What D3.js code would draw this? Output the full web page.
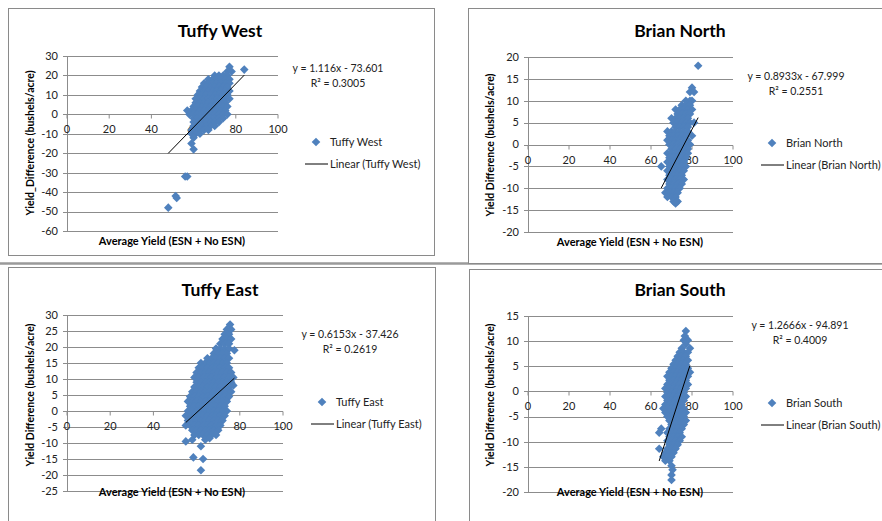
<!DOCTYPE html>
<html>
<head>
<meta charset="utf-8">
<script src="https://cdn.jsdelivr.net/npm/d3@7"></script>
<style>
  body { margin: 0; background: #fff; }
  svg { display: block; font-family: Lato, "Open Sans", sans-serif; }
</style>
</head>
<body>
<svg id="mysvg" width="882" height="521"></svg>
<script>
// values: [average yield, yield difference]
const tuffyWest = [
  [77,24.5],[84,23],[76,22],[78,22],
  [70,20],[72,20],[74,20],[76,20],
  [67,18],[69,18],[71,18],[73,18],[75,18],[77,18],
  [65,16],[67,16],[69,16],[71,16],[73,16],[75,16],[77,16],
  [64,14],[66,14],[68,14],[70,14],[72,14],[74,14],[76,14],
  [63,12],[65,12],[67,12],[69,12],[71,12],[73,12],[75,12],[77,12],
  [62,10],[64,10],[66,10],[68,10],[70,10],[72,10],[74,10],[76,10],
  [61,8],[63,8],[65,8],[67,8],[69,8],[71,8],[73,8],[75,8],[77,8],
  [61,6],[63,6],[65,6],[67,6],[69,6],[71,6],[73,6],[75,6],
  [60,4],[62,4],[64,4],[66,4],[68,4],[70,4],[72,4],[74,4],[76,4],
  [57,2],[59,2],[61,2],[63,2],[65,2],[67,2],[69,2],[71,2],[73,2],[75,2],
  [58,0],[60,0],[62,0],[64,0],[66,0],[68,0],[70,0],[72,0],[74,0],[76,0],
  [60,-2],[62,-2],[64,-2],[66,-2],[68,-2],[70,-2],[72,-2],[74,-2],
  [60,-4],[62,-4],[64,-4],[66,-4],[68,-4],[70,-4],[72,-4],
  [60,-6],[62,-6],[64,-6],[66,-6],[68,-6],[70,-6],
  [59,-8],[61,-8],[63,-8],[65,-8],[67,-8],
  [59,-10],[61,-10],[63,-10],[60,-12],[59,-15],[60,-18],
  [56,-32],[57,-32],[51.5,-42],[52,-43],[48,-48]
];
const brianNorth = [
  [83,18],[80,13],[79,12],[81,12],[77,10],[79,10],[80,10],
  [75,9],[77,9],[79,9],
  [72,8],[74,8],[76,8],[78,8],[80,8],
  [73,7],[75,7],[77,7],[79,7],
  [70,6],[72,6],[74,6],[76,6],[78,6],
  [71,5],[73,5],[75,5],[77,5],[79,5],[81,5],
  [72,4],[74,4],[76,4],[78,4],
  [68,3],[70,3],[72,3],[74,3],[76,3],[78,3],
  [69,2],[71,2],[73,2],[75,2],[77,2],[80,2],
  [68,1],[70,1],[72,1],[74,1],[76,1],[78,1],
  [69,0],[71,0],[73,0],[75,0],[77,0],[79,0],
  [70,-1],[72,-1],[74,-1],[76,-1],[78,-1],
  [68,-2],[70,-2],[72,-2],[74,-2],[76,-2],[78,-2],
  [69,-3],[71,-3],[73,-3],[75,-3],[77,-3],
  [68,-4],[70,-4],[72,-4],[74,-4],[76,-4],
  [65,-5],[69,-5],[71,-5],[73,-5],[75,-5],[77,-5],
  [68,-6],[70,-6],[72,-6],[74,-6],[76,-6],
  [69,-7],[71,-7],[73,-7],[75,-7],
  [68,-8],[70,-8],[72,-8],[74,-8],[76,-8],
  [69,-9],[71,-9],[73,-9],[75,-9],
  [68,-10],[70,-10],[72,-10],[74,-10],
  [67,-11],[69,-11],[71,-11],[73,-11],
  [68,-12],[70,-12],[72,-12],[71,-13],[73,-13],[72,-13.5]
];
const tuffyEast = [
  [75.5,27],[74,25.5],[76,25.5],[73,24],[75,24],
  [72,22.5],[74,22.5],[76,22.5],[71,21],[73,21],[75,21],
  [69,19.5],[71,19.5],[73,19.5],[75,19.5],[77.5,19],
  [68,18],[70,18],[72,18],[74,18],
  [65,16.5],[67,16.5],[69,16.5],[71,16.5],[73,16.5],[75,16.5],
  [62,15],[64,15],[66,15],[68,15],[70,15],[72,15],[74,15],
  [61,13.5],[63,13.5],[65,13.5],[67,13.5],[69,13.5],[71,13.5],[73,13.5],[75,13.5],
  [60,12],[62,12],[64,12],[66,12],[68,12],[70,12],[72,12],[74,12],[76,12],
  [59,10.5],[61,10.5],[63,10.5],[65,10.5],[67,10.5],[69,10.5],[71,10.5],[73,10.5],[75,10.5],[77,10.5],
  [60,9],[62,9],[64,9],[66,9],[68,9],[70,9],[72,9],[74,9],[76,9],
  [59,7.5],[61,7.5],[63,7.5],[65,7.5],[67,7.5],[69,7.5],[71,7.5],[73,7.5],[75,7.5],[77,8],
  [58,6],[60,6],[62,6],[64,6],[66,6],[68,6],[70,6],[72,6],[74,6],[76,6],
  [57,4.5],[59,4.5],[61,4.5],[63,4.5],[65,4.5],[67,4.5],[69,4.5],[71,4.5],[73,4.5],[75,4.5],
  [56,3],[58,3],[60,3],[62,3],[64,3],[66,3],[68,3],[70,3],[72,3],[74,3],
  [57,1.5],[59,1.5],[61,1.5],[63,1.5],[65,1.5],[67,1.5],[69,1.5],[71,1.5],[73,1.5],
  [56,0],[58,0],[60,0],[62,0],[64,0],[66,0],[68,0],[70,0],[72,0],[74,0],
  [55,-1.5],[57,-1.5],[59,-1.5],[61,-1.5],[63,-1.5],[65,-1.5],[67,-1.5],[69,-1.5],[71,-1.5],[73,-1.5],
  [56,-3],[58,-3],[60,-3],[62,-3],[64,-3],[66,-3],[68,-3],[70,-3],[72,-3],
  [55,-4.5],[57,-4.5],[59,-4.5],[61,-4.5],[63,-4.5],[65,-4.5],[67,-4.5],[69,-4.5],[71,-4.5],
  [58,-6],[60,-6],[62,-6],[64,-6],[66,-6],[68,-6],[70,-6],
  [59,-7.5],[61,-7.5],[63,-7.5],[65,-7.5],[67,-7.5],[69,-7.5],
  [55,-9.5],[58,-9],[64,-9],[66,-8.5],[62,-11],
  [58.5,-14.5],[63,-15],[62,-18.5]
];
const brianSouth = [
  [77,12],[76.5,11],[76,10.2],[78,10.2],[77,9.4],[75,8.6],[79,8.6],
  [74,7.8],[76,7.8],[78,7.8],[73,7],[75,7],[77,7],
  [72,6.2],[74,6.2],[76,6.2],[78,6.2],[71,5.4],[73,5.4],[75,5.4],[77,5.4],
  [70,4.6],[72,4.6],[74,4.6],[76,4.6],[78,4.6],
  [69,3.8],[71,3.8],[73,3.8],[75,3.8],[77,3.8],[79,3.8],
  [68,3],[70,3],[72,3],[74,3],[76,3],[78,3],
  [69,2.2],[71,2.2],[73,2.2],[75,2.2],[77,2.2],
  [68,1.4],[70,1.4],[72,1.4],[74,1.4],[76,1.4],[78,1.4],
  [67,0.6],[69,0.6],[71,0.6],[73,0.6],[75,0.6],[77,0.6],
  [68,-0.2],[70,-0.2],[72,-0.2],[74,-0.2],[76,-0.2],
  [67,-1],[69,-1],[71,-1],[73,-1],[75,-1],[77,-1],
  [68,-1.8],[70,-1.8],[72,-1.8],[74,-1.8],[76,-1.8],
  [67,-2.6],[69,-2.6],[71,-2.6],[73,-2.6],[75,-2.6],
  [66,-3.4],[68,-3.4],[70,-3.4],[72,-3.4],[74,-3.4],[76,-3.4],
  [67,-4.2],[69,-4.2],[71,-4.2],[73,-4.2],[75,-4.2],[77,-4.2],
  [68,-5],[70,-5],[72,-5],[74,-5],[76,-5],
  [69,-5.8],[71,-5.8],[73,-5.8],[75,-5.8],[77,-5.8],
  [70,-6.6],[72,-6.6],[74,-6.6],[76,-6.6],
  [65,-7.4],[69,-7.4],[71,-7.4],[73,-7.4],[75,-7.4],
  [64,-8.2],[68,-8.2],[70,-8.2],[72,-8.2],[74,-8.2],
  [69,-9],[71,-9],[73,-9],[75,-9],
  [68,-9.8],[70,-9.8],[72,-9.8],[74,-9.8],
  [69,-10.6],[71,-10.6],[73,-10.6],
  [64,-11.4],[68,-11.4],[70,-11.4],[72,-11.4],
  [67,-12.2],[69,-12.2],[71,-12.2],
  [66,-13],[68,-13],[70,-13],[67,-13.8],[69,-13.8],
  [70,-14.8],[70.5,-15.6],[70,-16.6],[70,-17.6]
];

const xTicks = [0, 20, 40, 60, 80, 100];
const tuffyWestYTicks = [30, 20, 10, 0, -10, -20, -30, -40, -50, -60];
const brianNorthYTicks = [20, 15, 10, 5, 0, -5, -10, -15, -20];
const tuffyEastYTicks = [30, 25, 20, 15, 10, 5, 0, -5, -10, -15, -20, -25];
const brianSouthYTicks = [15, 10, 5, 0, -5, -10, -15, -20];

// linear trendline: [slope, intercept], drawn over the x range of the data
const tuffyWestFit = [1.116, -73.601];
const brianNorthFit = [0.8933, -67.999];
const tuffyEastFit = [0.6153, -37.426];
const brianSouthFit = [1.2666, -94.891];

const tuffyWestText = ["y = 1.116x - 73.601", "R\u00b2 = 0.3005"];
const brianNorthText = ["y = 0.8933x - 67.999", "R\u00b2 = 0.2551"];
const tuffyEastText = ["y = 0.6153x - 37.426", "R\u00b2 = 0.2619"];
const brianSouthText = ["y = 1.2666x - 94.891", "R\u00b2 = 0.4009"];

const panels = [
  { name: "Tuffy West", pts: tuffyWest, yTicks: tuffyWestYTicks, fit: tuffyWestFit, eq: tuffyWestText,
    yTitle: "Yield_Difference (bushels/acre)",
    box: [8, 8, 426, 247], plot: [67, 278, 56, 231], title: [220, 37], eqPos: [338, 72],
    yTitlePos: [30, 143], xTitlePos: [172, 245], legend: [316, 142] },
  { name: "Brian North", pts: brianNorth, yTicks: brianNorthYTicks, fit: brianNorthFit, eq: brianNorthText,
    yTitle: "Yield Difference (bushels/acre)",
    box: [468, 8, 420, 255], plot: [528, 733, 57, 232], title: [680, 37], eqPos: [796, 80],
    yTitlePos: [490, 145], xTitlePos: [630, 246], legend: [772, 143] },
  { name: "Tuffy East", pts: tuffyEast, yTicks: tuffyEastYTicks, fit: tuffyEastFit, eq: tuffyEastText,
    yTitle: "Yield Difference (bushels/acre)",
    box: [8, 267, 427, 260], plot: [67, 283, 315, 491], title: [220, 296], eqPos: [350, 338],
    yTitlePos: [30, 395], xTitlePos: [172, 496], legend: [322, 402] },
  { name: "Brian South", pts: brianSouth, yTicks: brianSouthYTicks, fit: brianSouthFit, eq: brianSouthText,
    yTitle: "Yield Difference (bushels/acre)",
    box: [469, 269, 420, 260], plot: [528, 733, 316, 492], title: [680, 296], eqPos: [800, 329],
    yTitlePos: [490, 395], xTitlePos: [630, 496], legend: [772, 403] }
];

const blue = "#4f81bd";
const gridColor = "#8c8c8c";
const diamond = "M0,-4.3L4.3,0L0,4.3L-4.3,0Z";

const svg = d3.select("#mysvg");

// divider line between the two rows
svg.append("line").attr("x1", 0).attr("x2", 882).attr("y1", 263.5).attr("y2", 263.5)
  .attr("stroke", "#9a9a9a").attr("stroke-width", 2.5);

panels.forEach((p) => {
  const g = svg.append("g");
  const [bx, by, bw, bh] = p.box;
  g.append("rect").attr("x", bx + 0.5).attr("y", by + 0.5).attr("width", bw).attr("height", bh)
    .attr("fill", "#fff").attr("stroke", "#8a8a8a").attr("stroke-width", 1);

  const [x0, x1, y0, y1] = p.plot;
  const x = d3.scaleLinear().domain([0, 100]).range([x0, x1]);
  const y = d3.scaleLinear().domain([p.yTicks[0], p.yTicks[p.yTicks.length - 1]]).range([y0, y1]);

  // gridlines (with the small outside tick on the left)
  g.selectAll(".grid").data(p.yTicks).join("line").attr("class", "grid")
    .attr("x1", x0 - 4).attr("x2", x1)
    .attr("y1", (d) => Math.round(y(d)) + 0.5).attr("y2", (d) => Math.round(y(d)) + 0.5)
    .attr("stroke", gridColor).attr("stroke-width", 1);

  // vertical axis
  g.append("line").attr("x1", x0 + 0.5).attr("x2", x0 + 0.5).attr("y1", y0).attr("y2", y1)
    .attr("stroke", gridColor);

  g.selectAll(".ylab").data(p.yTicks).join("text").attr("class", "ylab")
    .attr("x", x0 - 9).attr("y", (d) => y(d)).attr("dy", "0.35em")
    .attr("text-anchor", "end").attr("font-size", 11).attr("fill", "#222")
    .text((d) => d);

  // horizontal axis sits on the zero line
  const y0px = Math.round(y(0)) + 0.5;
  g.selectAll(".xtick").data(xTicks).join("line").attr("class", "xtick")
    .attr("x1", (d) => x(d)).attr("x2", (d) => x(d))
    .attr("y1", y0px).attr("y2", y0px + 4)
    .attr("stroke", gridColor);
  g.selectAll(".xlab").data(xTicks).join("text").attr("class", "xlab")
    .attr("x", (d) => x(d)).attr("y", y0px + 15).attr("dy", "0.35em")
    .attr("text-anchor", "middle").attr("font-size", 11).attr("fill", "#222")
    .text((d) => d);

  // points
  g.selectAll(".pt").data(p.pts).join("path").attr("class", "pt")
    .attr("d", diamond)
    .attr("transform", (d) => `translate(${x(d[0])},${y(d[1])})`)
    .attr("fill", blue);

  // trendline over the data range
  const [xmin, xmax] = d3.extent(p.pts, (d) => d[0]);
  g.append("line")
    .attr("x1", x(xmin)).attr("y1", y(p.fit[0] * xmin + p.fit[1]))
    .attr("x2", x(xmax)).attr("y2", y(p.fit[0] * xmax + p.fit[1]))
    .attr("stroke", "#000").attr("stroke-width", 1);

  // titles
  g.append("text").attr("x", p.title[0]).attr("y", p.title[1])
    .attr("text-anchor", "middle").attr("font-size", 17.5).attr("font-weight", "bold")
    .text(p.name);
  g.append("text").attr("x", p.xTitlePos[0]).attr("y", p.xTitlePos[1])
    .attr("text-anchor", "middle").attr("font-size", 11).attr("font-weight", "bold")
    .text("Average Yield (ESN + No ESN)");
  g.append("text")
    .attr("transform", `translate(${p.yTitlePos[0]},${p.yTitlePos[1]}) rotate(-90)`)
    .attr("text-anchor", "middle").attr("dy", "0.35em")
    .attr("font-size", 10.5).attr("font-weight", "bold")
    .text(p.yTitle);

  // equation label
  g.selectAll(".eq").data(p.eq).join("text").attr("class", "eq")
    .attr("x", p.eqPos[0]).attr("y", (d, i) => p.eqPos[1] + i * 15)
    .attr("text-anchor", "middle").attr("font-size", 10.5).attr("fill", "#222")
    .text((d) => d);

  // legend
  const [lx, ly] = p.legend;
  g.append("path").attr("d", diamond).attr("transform", `translate(${lx},${ly})`).attr("fill", blue);
  g.append("text").attr("x", lx + 14).attr("y", ly).attr("dy", "0.35em")
    .attr("font-size", 11).attr("fill", "#222").text(p.name);
  g.append("line").attr("x1", lx - 11).attr("x2", lx + 12)
    .attr("y1", ly + 22).attr("y2", ly + 22).attr("stroke", "#000");
  g.append("text").attr("x", lx + 14).attr("y", ly + 22).attr("dy", "0.35em")
    .attr("font-size", 11).attr("fill", "#222").text(`Linear (${p.name})`);
});
</script>
</body>
</html>
